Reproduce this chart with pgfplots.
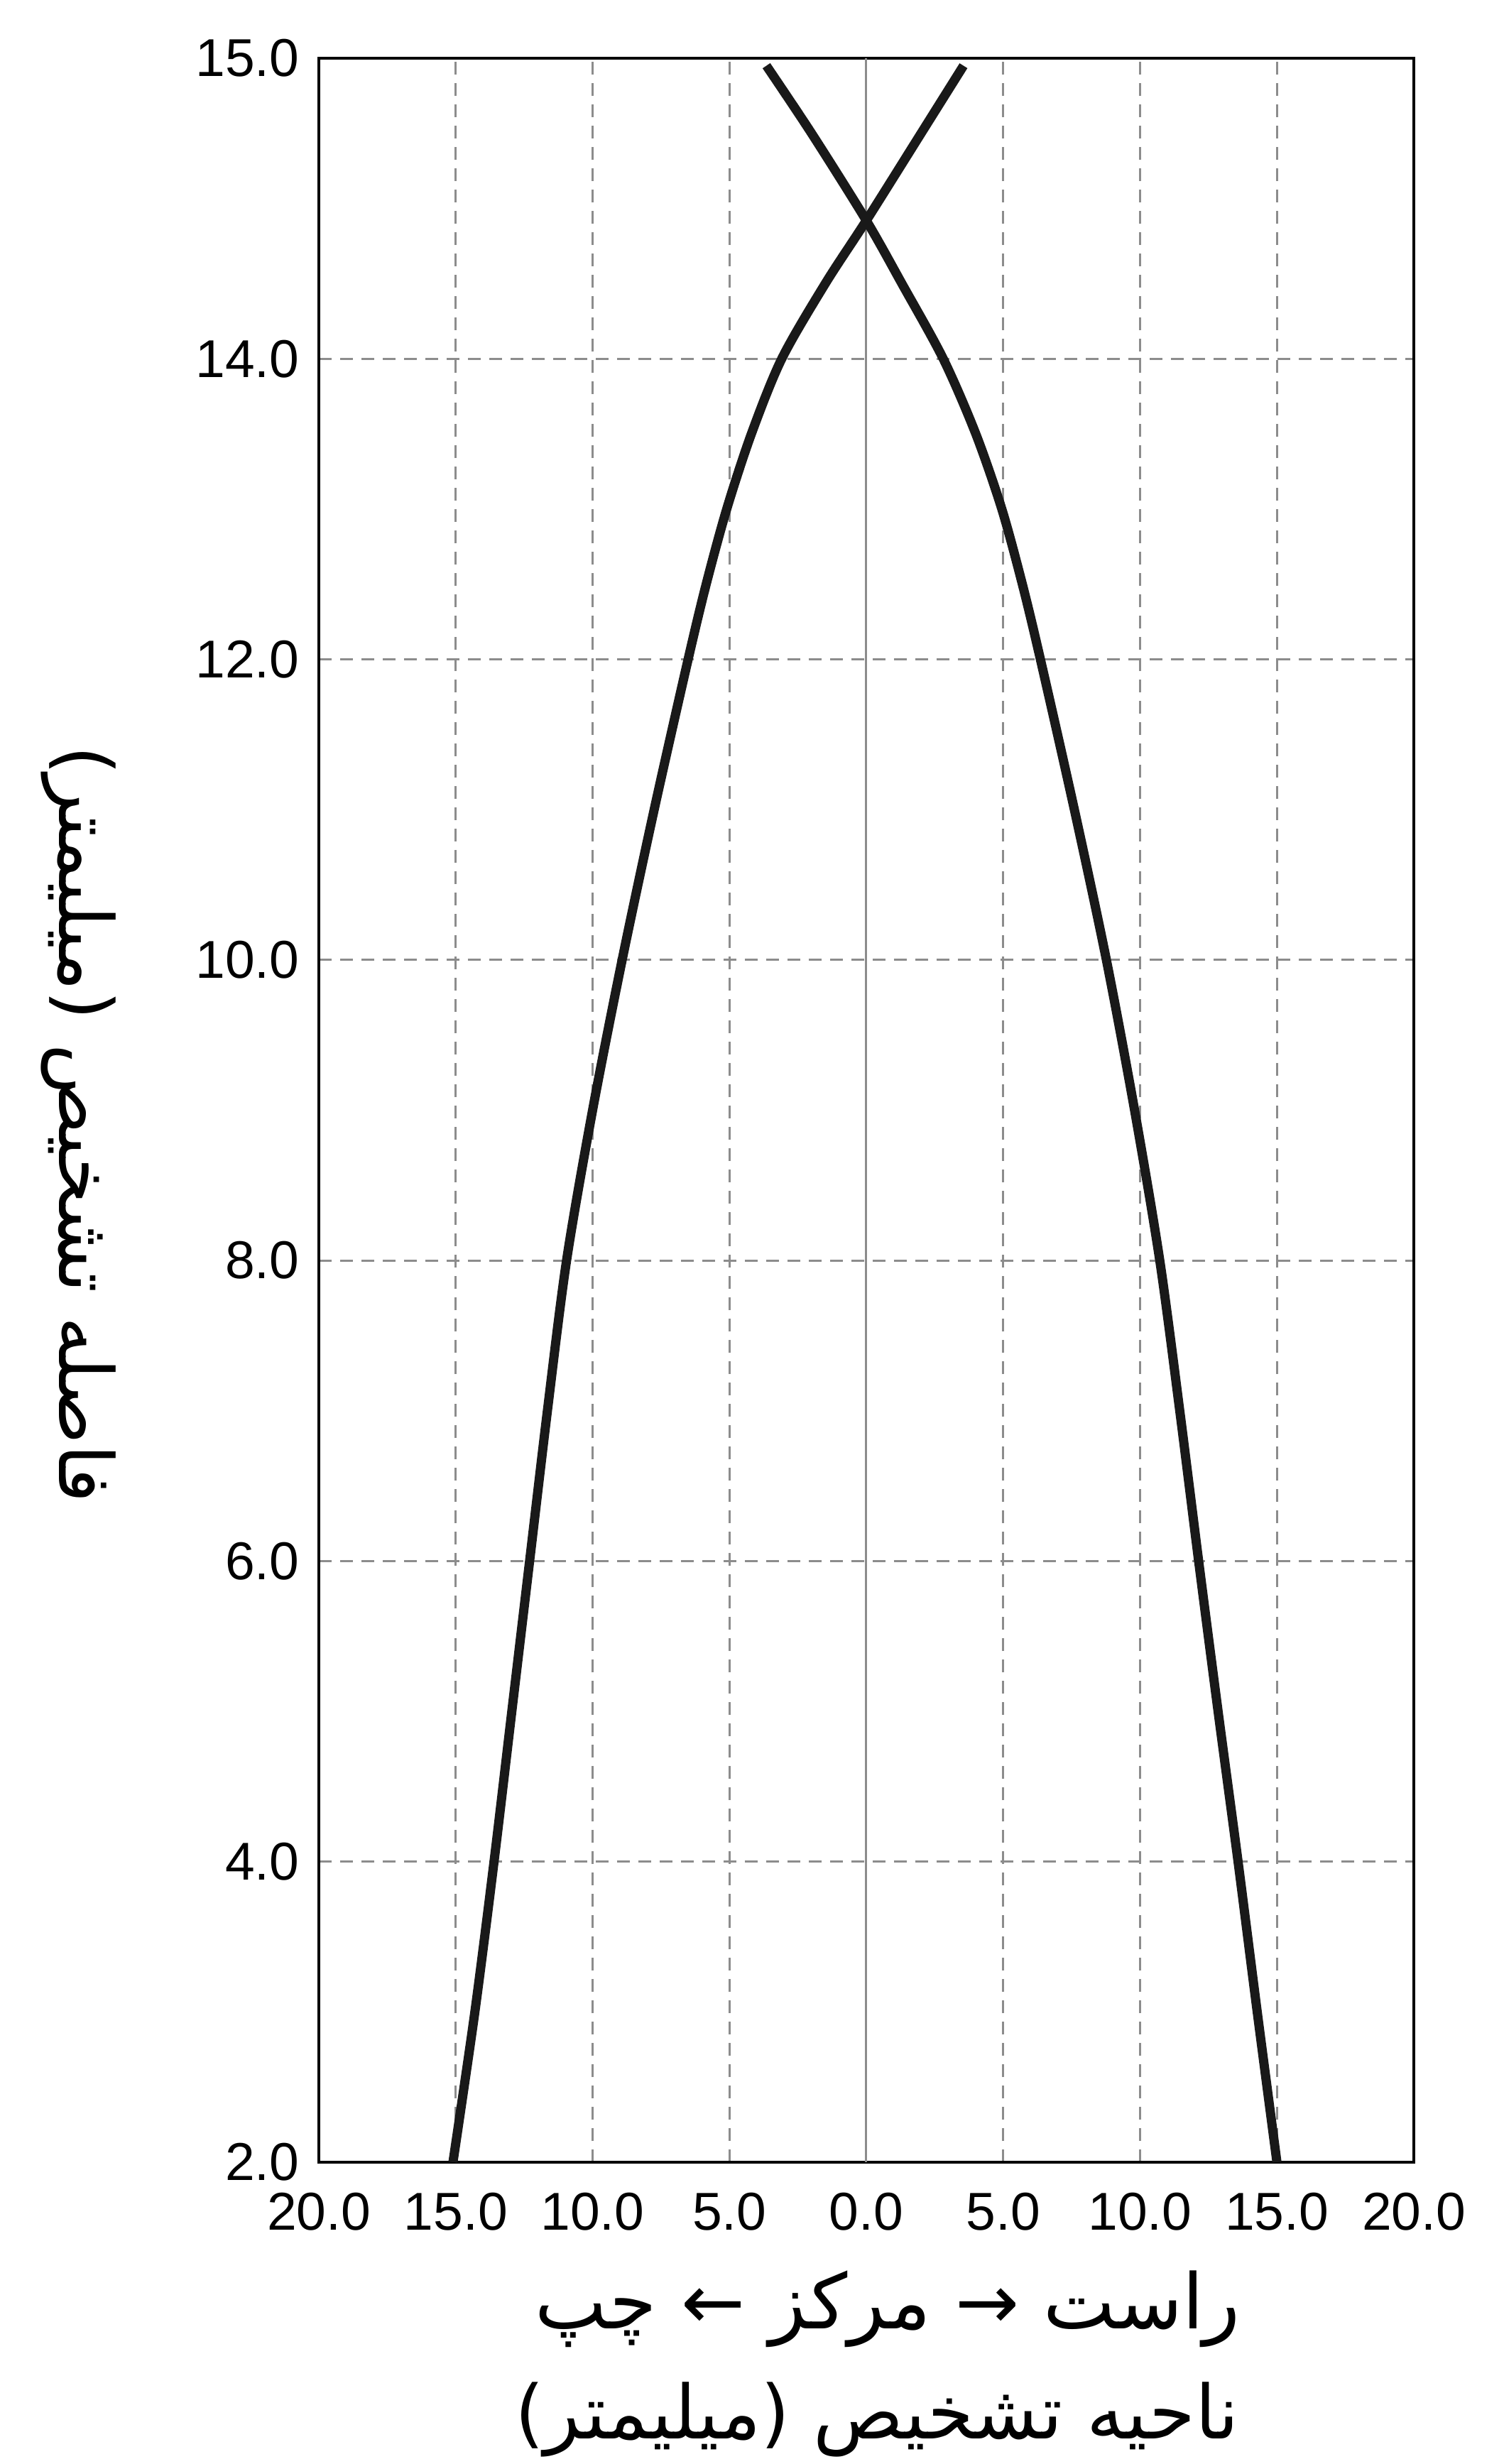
\documentclass[border=0pt]{standalone}
\usepackage{fontspec}
\setmainfont{Liberation Sans}
\newfontfamily\arabicfont[Script=Arabic]{DejaVu Sans}
\TeXXeTstate=1
\usepackage{pgfplots}
\pgfplotsset{compat=1.18}

\begin{document}
\begin{tikzpicture}
\path[use as bounding box] (-89.8pt,-85pt) rectangle (333.6pt,609pt);
\begin{axis}[
  at={(0,0)}, anchor=south west,
  scale only axis, width=308.4pt, height=592.6pt,
  xmin=-20, xmax=20, ymin=2, ymax=16,
  xtick={-20,-15,...,20},
  xticklabels={20.0,15.0,10.0,5.0,0.0,5.0,10.0,15.0,20.0},
  ytick={2,4,6,8,10,12,14,16},
  yticklabels={2.0,4.0,6.0,8.0,10.0,12.0,14.0,15.0},
  grid=major,
  major grid style={black!45, line width=0.6pt, dash pattern=on 3.6pt off 2.4pt},
  major tick length=0pt,
  axis line style={black, line width=0.8pt},
  tick label style={font=\fontsize{15}{18}\selectfont},
  /pgf/number format/assume math mode=true,
  xticklabel style={yshift=-5pt},
  yticklabel style={xshift=-2pt},
  clip=false,
]
\addplot[black!45, line width=0.6pt] coordinates {(0,2) (0,16)};
\addplot[black!90, line width=2.6pt, smooth] coordinates {
(-15.1,2) (-14.3,3) (-13.6,4) (-12.95,5) (-12.3,6) (-11.65,7) (-10.95,8) (-10.0,9)
(-8.92,10) (-7.75,11) (-6.51,12) (-5.85,12.5) (-5.1,13) (-4.2,13.5) (-3.09,14)
(-1.5,14.5) (0,14.92) (2.0,15.5) (3.55,15.95)};
\addplot[black!90, line width=2.6pt, smooth] coordinates {
(15.0,2) (14.28,3) (13.58,4) (12.85,5) (12.14,6) (11.45,7) (10.72,8) (9.8,9)
(8.77,10) (7.6,11) (6.36,12) (5.7,12.5) (4.95,13) (4.0,13.5) (2.81,14)
(1.3,14.5) (0,14.92) (-2.0,15.5) (-3.65,15.95)};
\node[font=\arabicfont\fontsize{21.5}{26}\selectfont, xshift=6pt, yshift=-41.4pt]
  at (axis description cs:0.5,0) {\beginR راست → مرکز ← چپ\endR};
\node[font=\arabicfont\fontsize{21}{26}\selectfont, xshift=3pt, yshift=-72.4pt]
  at (axis description cs:0.5,0) {\beginR ناحیه تشخیص (میلیمتر)\endR};
\node[font=\arabicfont\fontsize{21}{26}\selectfont, xshift=-67.6pt, yshift=-4pt, rotate=-90]
  at (axis description cs:0,0.5) {\beginR فاصله تشخیص (میلیمتر)\endR};
\end{axis}
\end{tikzpicture}
\end{document}
